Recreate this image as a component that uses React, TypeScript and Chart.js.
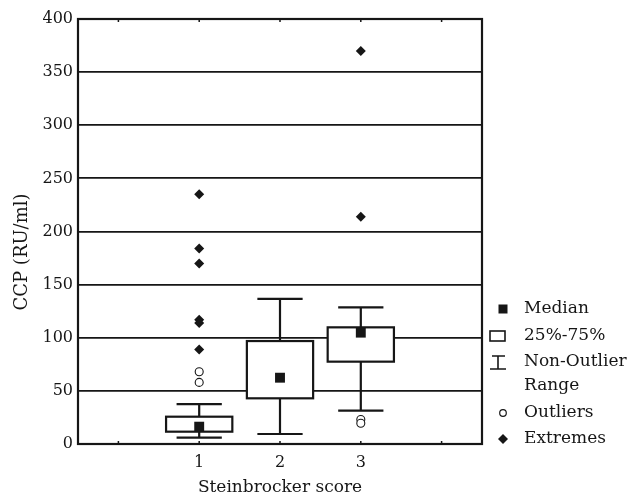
import React, { useEffect, useRef } from "react";
import { Chart, registerables } from "chart.js";

Chart.register(...registerables);

const categories = [1, 2, 3];
const q1Values = [11.6, 43.0, 77.5];
const q3Values = [25.7, 96.9, 109.8];
const medianValues = [16.3, 62.4, 104.8];
const whiskerLow = [6.0, 9.4, 31.4];
const whiskerHigh = [37.5, 136.5, 128.6];
const outlierCats = [1, 1, 3, 3];
const outlierValues = [68, 58, 23, 19.5];
const extremeCats = [1, 1, 1, 1, 1, 1, 3, 3];
const extremeValues = [235, 184, 170, 117, 114, 89, 370, 214];
const xTickValues = [0, 1, 2, 3, 4];
const xTickLabels = ["", "1", "2", "3", ""];
const legendLabels = ["Median", "25%-75%", "Non-Outlier", "Range", "Outliers", "Extremes"];

const INK = "#161616";
const FONT = "'DejaVu Serif', serif";

const boxPlugin = {
  id: "boxes",
  beforeDatasetsDraw(chart: any) {
    const { ctx } = chart;
    const xs = chart.scales.x;
    const ys = chart.scales.y;
    const unit = xs.getPixelForValue(1) - xs.getPixelForValue(0);
    const halfBox = unit * 0.41;
    const halfCap = unit * 0.28;
    ctx.save();
    ctx.strokeStyle = INK;
    ctx.lineWidth = 2.2;
    categories.forEach((c, i) => {
      const x = xs.getPixelForValue(c);
      const yq1 = ys.getPixelForValue(q1Values[i]);
      const yq3 = ys.getPixelForValue(q3Values[i]);
      const ylo = ys.getPixelForValue(whiskerLow[i]);
      const yhi = ys.getPixelForValue(whiskerHigh[i]);
      ctx.beginPath();
      ctx.moveTo(x, yq3);
      ctx.lineTo(x, yhi);
      ctx.moveTo(x - halfCap, yhi);
      ctx.lineTo(x + halfCap, yhi);
      ctx.moveTo(x, yq1);
      ctx.lineTo(x, ylo);
      ctx.moveTo(x - halfCap, ylo);
      ctx.lineTo(x + halfCap, ylo);
      ctx.stroke();
      ctx.fillStyle = "#ffffff";
      ctx.fillRect(x - halfBox, yq3, 2 * halfBox, yq1 - yq3);
      ctx.strokeRect(x - halfBox, yq3, 2 * halfBox, yq1 - yq3);
    });
    ctx.restore();
  },
  afterDraw(chart: any) {
    const { ctx, chartArea } = chart;
    const xs = chart.scales.x;
    const { left, right, top, bottom } = chartArea;
    ctx.save();
    ctx.strokeStyle = INK;
    ctx.lineWidth = 2.2;
    ctx.strokeRect(left, top, right - left, bottom - top);
    ctx.lineWidth = 1.5;
    ctx.beginPath();
    xTickValues.forEach((v) => {
      const x = xs.getPixelForValue(v);
      ctx.moveTo(x, bottom);
      ctx.lineTo(x, bottom - 3);
      ctx.moveTo(x, top);
      ctx.lineTo(x, top + 3);
    });
    ctx.stroke();

    // axis titles
    ctx.fillStyle = INK;
    ctx.font = `17px ${FONT}`;
    ctx.textAlign = "center";
    ctx.textBaseline = "middle";
    ctx.fillText("Steinbrocker score", (left + right) / 2, 488);
    ctx.save();
    ctx.font = `18px ${FONT}`;
    ctx.translate(22, 252);
    ctx.rotate(-Math.PI / 2);
    ctx.fillText("CCP (RU/ml)", 0, 0);
    ctx.restore();

    // legend
    const sx = right + 21;
    const tx = right + 42;
    const rows = [309, 336, 362, 386, 413, 439];
    ctx.font = `17px ${FONT}`;
    ctx.textAlign = "left";
    ctx.textBaseline = "middle";
    legendLabels.forEach((t, i) => ctx.fillText(t, tx, rows[i]));
    // median square
    ctx.fillRect(sx - 4.5, rows[0] - 4.5, 9, 9);
    // box
    ctx.lineWidth = 1.6;
    ctx.strokeRect(sx - 13, rows[1] - 5, 15, 10);
    // whisker
    ctx.beginPath();
    ctx.moveTo(sx - 11, rows[2] - 6);
    ctx.lineTo(sx + 2, rows[2] - 6);
    ctx.moveTo(sx - 5, rows[2] - 6);
    ctx.lineTo(sx - 5, rows[2] + 7);
    ctx.moveTo(sx - 13, rows[2] + 7);
    ctx.lineTo(sx + 3, rows[2] + 7);
    ctx.stroke();
    // outlier circle
    ctx.lineWidth = 1.2;
    ctx.beginPath();
    ctx.arc(sx, rows[4], 3.3, 0, Math.PI * 2);
    ctx.stroke();
    // extreme diamond
    ctx.beginPath();
    ctx.moveTo(sx - 5, rows[5]);
    ctx.lineTo(sx, rows[5] - 5);
    ctx.lineTo(sx + 5, rows[5]);
    ctx.lineTo(sx, rows[5] + 5);
    ctx.closePath();
    ctx.fill();
    ctx.restore();
  },
};

export default function App() {
  const ref = useRef<HTMLCanvasElement>(null);
  useEffect(() => {
    if (!ref.current) return;
    const chart = new Chart(ref.current, {
      type: "scatter",
      data: {
        datasets: [
          {
            label: "Median",
            data: categories.map((c, i) => ({ x: c, y: medianValues[i] })),
            pointStyle: "rect",
            radius: 7,
            backgroundColor: INK,
            borderColor: INK,
            borderWidth: 0,
          },
          {
            label: "Outliers",
            data: outlierCats.map((c, i) => ({ x: c, y: outlierValues[i] })),
            pointStyle: "circle",
            radius: 4,
            backgroundColor: "#ffffff",
            borderColor: INK,
            borderWidth: 1.1,
          },
          {
            label: "Extremes",
            data: extremeCats.map((c, i) => ({ x: c, y: extremeValues[i] })),
            pointStyle: "rectRot",
            radius: 5,
            backgroundColor: INK,
            borderColor: INK,
            borderWidth: 0,
          },
        ],
      },
      options: {
        animation: false,
        responsive: false,
        layout: { padding: { top: 19, right: 154, left: 0, bottom: 0 } },
        plugins: { legend: { display: false }, tooltip: { enabled: false } },
        scales: {
          x: {
            type: "linear",
            min: -0.5,
            max: 4.5,
            afterBuildTicks: (s: any) => {
              s.ticks = xTickValues.map((v) => ({ value: v }));
            },
            afterFit: (s: any) => {
              s.height = 55;
            },
            grid: { display: false },
            border: { display: false },
            ticks: {
              color: INK,
              font: { family: FONT, size: 16 },
              padding: 1,
              maxRotation: 0,
              autoSkip: false,
              callback: (v: any) => xTickLabels[xTickValues.indexOf(Number(v))] ?? "",
            },
          },
          y: {
            min: 0,
            max: 400,
            afterFit: (s: any) => {
              s.width = 78;
            },
            grid: { color: INK, lineWidth: 1.8, drawTicks: false },
            border: { display: false },
            ticks: {
              stepSize: 50,
              color: INK,
              font: { family: FONT, size: 16 },
              padding: 5,
            },
          },
        },
      },
      plugins: [boxPlugin],
    } as any);
    return () => chart.destroy();
  }, []);
  return (
    <div style={{ position: "fixed", left: 0, top: 0, width: 636, height: 499, background: "#fff" }}>
      <canvas ref={ref} width={636} height={499} style={{ width: 636, height: 499 }} />
    </div>
  );
}
